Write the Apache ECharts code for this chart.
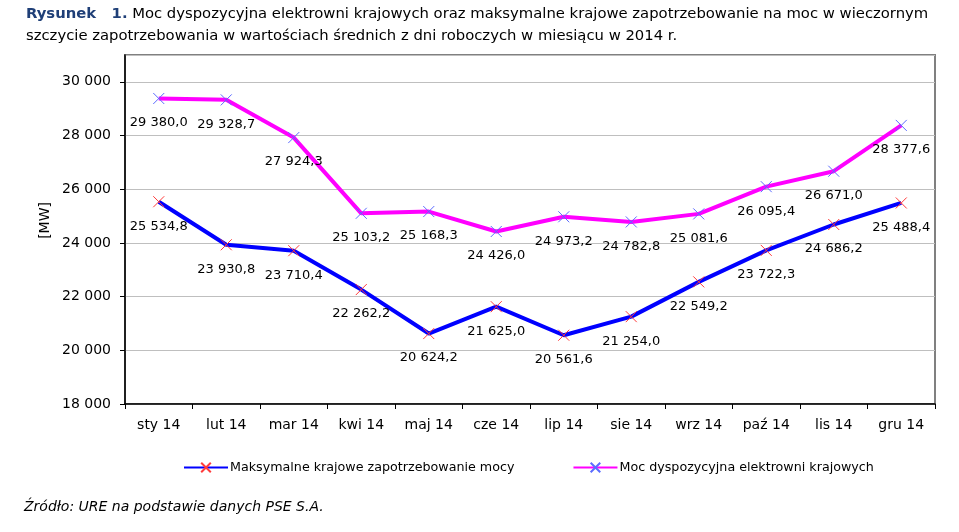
<!DOCTYPE html>
<html>
<head>
<meta charset="utf-8">
<script src="https://cdn.jsdelivr.net/npm/echarts@6/dist/echarts.min.js"></script>
<style>
  html, body { margin: 0; padding: 0; background: #fff; }
  #chart { width: 959px; height: 532px; }
</style>
</head>
<body>
<div id="chart"></div>
<script>
// miesiące
const months = ['sty 14', 'lut 14', 'mar 14', 'kwi 14', 'maj 14', 'cze 14', 'lip 14', 'sie 14', 'wrz 14', 'paź 14', 'lis 14', 'gru 14']
// maksymalne zapotrzebowanie
const demand = [25534.8, 23930.8, 23710.4, 22262.2, 20624.2, 21625.0, 20561.6, 21254.0, 22549.2, 23722.3, 24686.2, 25488.4]
// moc dyspozycyjna
const available = [29380.0, 29328.7, 27924.3, 25103.2, 25168.3, 24426.0, 24973.2, 24782.8, 25081.6, 26095.4, 26671.0, 28377.6]
const seriesNames = ['Maksymalne krajowe zapotrzebowanie mocy', 'Moc dyspozycyjna elektrowni krajowych']

const FONT = 'DejaVu Sans'
const crossPath = 'path://M0,0L10,10M10,0L0,10'

function fmt(v, dec) {
  const s = v.toFixed(dec)
  const parts = s.split('.')
  const int = parts[0].replace(/\B(?=(\d{3})+(?!\d))/g, ' ')
  return parts.length > 1 ? int + ',' + parts[1] : int
}

const chart = echarts.init(document.getElementById('chart'))

const options = {
  animation: false,
  backgroundColor: '#fff',
  textStyle: { fontFamily: FONT },
  title: [{
    text: '{b|Rysunek   1.} Moc dyspozycyjna elektrowni krajowych oraz maksymalne krajowe zapotrzebowanie na moc w wieczornym\nszczycie zapotrzebowania w wartościach średnich z dni roboczych w miesiącu w 2014 r.',
    left: 26,
    top: 3,
    padding: 0,
    textStyle: {
      fontFamily: FONT,
      fontSize: 14.8,
      fontWeight: 'normal',
      color: '#000',
      lineHeight: 22,
      rich: {
        b: { fontFamily: FONT, fontSize: 14.8, fontWeight: 'bold', color: '#1F3F77', lineHeight: 22 }
      }
    }
  }, {
    text: 'Źródło: URE na podstawie danych PSE S.A.',
    left: 24,
    top: 500,
    padding: 0,
    textStyle: { fontFamily: FONT, fontSize: 14, fontStyle: 'italic', fontWeight: 'normal', color: '#000' }
  }],
  graphic: [{
    type: 'text',
    left: 38,
    top: 202,
    rotation: Math.PI / 2,
    style: { text: '[MW]', fontFamily: FONT, fontSize: 14, fill: '#000' }
  }],
  legend: {
    data: seriesNames,
    left: 178,
    top: 456,
    itemWidth: 44,
    itemHeight: 12,
    itemGap: 58,
    textStyle: { fontFamily: FONT, fontSize: 12.7, color: '#000', padding: [0, 0, 0, -3] }
  },
  grid: {
    left: 125,
    right: 24,
    top: 55,
    bottom: 128,
    show: true,
    borderColor: '#808080',
    borderWidth: 2
  },
  xAxis: {
    type: 'category',
    data: months,
    boundaryGap: true,
    axisLine: { lineStyle: { color: '#000', width: 1.5 } },
    axisTick: { show: true, length: 5, lineStyle: { color: '#000' } },
    axisLabel: { color: '#000', fontSize: 14, margin: 14, fontFamily: FONT }
  },
  yAxis: {
    type: 'value',
    min: 18000,
    max: 31000,
    interval: 2000,
    axisLine: { show: true, lineStyle: { color: '#000', width: 1.5 } },
    axisTick: { show: true, length: 5, lineStyle: { color: '#000' } },
    axisLabel: { color: '#000', fontSize: 14, margin: 14, fontFamily: FONT, showMaxLabel: false, formatter: v => fmt(v, 0) },
    splitLine: { lineStyle: { color: '#BFBFBF', width: 1 } }
  },
  series: [{
    name: seriesNames[0],
    type: 'line',
    data: demand,
    symbol: crossPath,
    symbolSize: 11,
    itemStyle: { color: 'rgba(0,0,0,0)', borderColor: '#FF3B3B', borderWidth: 1 },
    lineStyle: { color: '#0000FF', width: 4 },
    label: {
      show: true,
      position: 'bottom',
      distance: 12,
      color: '#000',
      fontSize: 13,
      fontFamily: FONT,
      formatter: p => fmt(p.value, 1)
    },
    z: 3
  }, {
    name: seriesNames[1],
    type: 'line',
    data: available,
    symbol: crossPath,
    symbolSize: 11,
    itemStyle: { color: 'rgba(0,0,0,0)', borderColor: '#5B6BFF', borderWidth: 1 },
    lineStyle: { color: '#FF00FF', width: 4 },
    label: {
      show: true,
      position: 'bottom',
      distance: 12,
      color: '#000',
      fontSize: 13,
      fontFamily: FONT,
      formatter: p => fmt(p.value, 1)
    },
    z: 3
  }]
}

chart.setOption(options)
</script>
</body>
</html>
